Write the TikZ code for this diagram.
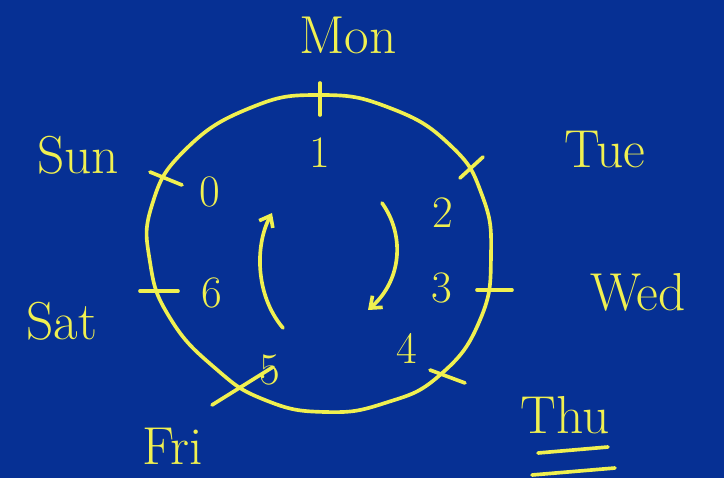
\documentclass[tikz,border=0pt]{standalone}
\usepackage{tikz}
\usetikzlibrary{arrows.meta,calc,positioning}
\definecolor{board}{RGB}{6,48,148}
\definecolor{chalk}{RGB}{240,240,80}

\begin{document}
\begin{tikzpicture}[x=0.025cm,y=-0.025cm,
    pen/.style={draw=chalk,line width=2.6pt,line cap=round,line join=round},
    day/.style={text=chalk,font=\fontsize{38}{42}\selectfont,inner sep=0pt},
    num/.style={text=chalk,font=\fontsize{32}{36}\selectfont,inner sep=0pt}]
      % background
      \fill[board] (0,0) rectangle (724,478);
      \useasboundingbox (0,0) rectangle (724,478);
      % the wheel
      \draw[pen] plot[smooth cycle,tension=0.8] coordinates {(320,95) (390,108) (450,145)
        (482,195) (491,255) (480,320) (440,375) (385,403) (325,412) (265,400) (215,368)
        (170,318) (150,262) (152,205) (185,150) (250,108)};
      % ticks
      \draw[pen] (320,83) -- (320,115);
      \draw[pen] (460,178) -- (483,157);
      \draw[pen] (477,290) -- (512,290);
      \draw[pen] (430,370) -- (465,383);
      \draw[pen] (212,405) -- (273,367);
      \draw[pen] (140,291) -- (178,291);
      \draw[pen] (150,172) -- (182,185);
      % numbers
      \node[num] (n1) at (320,153) {1};
      \node[num] (n2) at (443,213) {2};
      \node[num] (n3) at (442,288) {3};
      \node[num] (n4) at (407,348) {4};
      \node[num] (n5) at (270,370) {5};
      \node[num] (n6) at (212,293) {6};
      \node[num] (n0) at (210,192) {0};
      % days
      \node[day] (mon) at (348,35) {Mon};
      \node[day] (tue) at (605,150) {Tue};
      \node[day] (wed) at (638,292) {Wed};
      \node[day] (thu) at (565,415) {Thu};
      \node[day] (fri) at (173,446) {Fri};
      \node[day] (sat) at (62,321) {Sat};
      \node[day] (sun) at (78,155) {Sun};
      \draw[pen] (538,453) -- (608,447);
      \draw[pen] (532,475) -- (615,468);
      % direction
      \coordinate (lfrom) at (283,328);
      \coordinate (lto) at (272,213);
      \coordinate (rfrom) at (382,203);
      \coordinate (rto) at (368,310);
      \draw[pen,-{Straight Barb[length=7pt,width=11pt]}] (lfrom) .. controls (255,295) and (255,245) .. (lto);
      \draw[pen,-{Straight Barb[length=7pt,width=11pt]}] (rfrom) .. controls (405,235) and (402,280) .. (rto);
    \end{tikzpicture}
\end{document}
